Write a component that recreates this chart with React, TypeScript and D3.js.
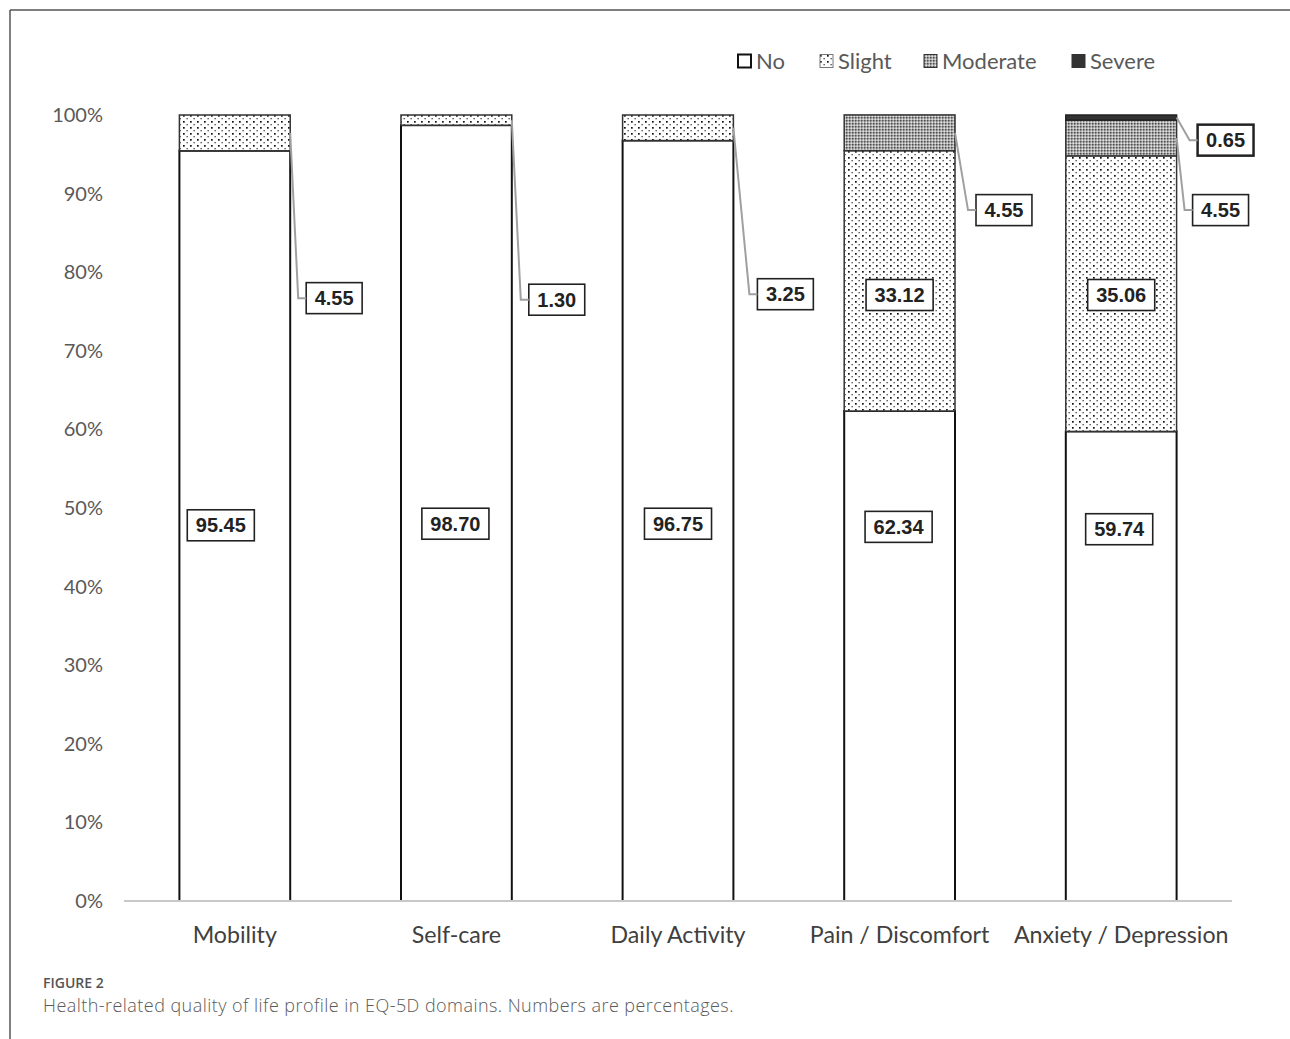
import React, { useEffect, useRef } from "react";
import * as d3 from "d3";

// EQ-5D domains and the share of each answer level (percent)
const categories = ["Mobility", "Self-care", "Daily Activity", "Pain / Discomfort", "Anxiety / Depression"];
const levels = ["No", "Slight", "Moderate", "Severe"];
const noVals = [95.45, 98.7, 96.75, 62.34, 59.74];
const slightVals = [4.55, 1.3, 3.25, 33.12, 35.06];
const moderateVals = [0, 0, 0, 4.55, 4.55];
const severeVals = [0, 0, 0, 0, 0.65];
const yTicks = [0, 10, 20, 30, 40, 50, 60, 70, 80, 90, 100];

// where the value boxes sit (percent height / pixel offset)
const noLabelAt = [47.8, 48, 48, 47.6, 47.3];
const noLabelDx = [-14, -1, 0, -1, -2];
const slightInsideAt = 77.1;
// callouts for thin segments: [category index, level index, dx, box y in percent]
const callouts: [number, number, number, number][] = [
    [0, 1, 46, 76.7],
    [1, 1, 47, 76.5],
    [2, 1, 54, 77.2],
    [3, 2, 51, 87.9],
    [4, 3, 51, 96.8],
    [4, 2, 46, 87.9],
];

const W = 1290;
const H = 1039;

const App = () => {
    const ref = useRef<SVGSVGElement>(null);

    useEffect(() => {
        const svg = d3.select(ref.current);
        svg.selectAll("*").remove();

        const x = d3
            .scaleBand()
            .domain(categories)
            .range([124, 1232])
            .paddingInner(0.5)
            .paddingOuter(0.25);
        const y = d3.scaleLinear().domain([0, 100]).range([901, 115]);

        // fill patterns
        const defs = svg.append("defs");
        const dots = defs
            .append("pattern")
            .attr("id", "slight")
            .attr("patternUnits", "userSpaceOnUse")
            .attr("width", 7)
            .attr("height", 6);
        dots.append("rect").attr("width", 7).attr("height", 6).attr("fill", "#fff");
        dots.append("rect").attr("x", 1).attr("y", 1).attr("width", 1.7).attr("height", 1.7).attr("fill", "#111");
        dots.append("rect").attr("x", 4.5).attr("y", 4).attr("width", 1.3).attr("height", 1.3).attr("fill", "#444");

        const mod = defs
            .append("pattern")
            .attr("id", "moderate")
            .attr("patternUnits", "userSpaceOnUse")
            .attr("width", 3)
            .attr("height", 3);
        mod.append("rect").attr("width", 3).attr("height", 3).attr("fill", "#ababab");
        mod.append("rect").attr("width", 1.5).attr("height", 1.5).attr("fill", "#505050");
        mod.append("rect").attr("x", 1.5).attr("y", 1.5).attr("width", 1.5).attr("height", 1.5).attr("fill", "#e0e0e0");

        const fills: Record<string, string> = {
            No: "#fff",
            Slight: "url(#slight)",
            Moderate: "url(#moderate)",
            Severe: "#333",
        };
        const strokes: Record<string, string> = {
            No: "#111",
            Slight: "#333",
            Moderate: "#333",
            Severe: "#222",
        };

        // outer frame lines
        svg.append("line").attr("x1", 10).attr("x2", W).attr("y1", 10).attr("y2", 10).attr("stroke", "#555").attr("stroke-width", 1.5);
        svg.append("line").attr("x1", 10).attr("x2", 10).attr("y1", 10).attr("y2", H).attr("stroke", "#555").attr("stroke-width", 1.5);

        // y axis labels
        svg.append("g")
            .selectAll("text")
            .data(yTicks)
            .join("text")
            .attr("x", 103)
            .attr("y", (d) => y(d))
            .attr("dy", "0.35em")
            .attr("text-anchor", "end")
            .attr("font-family", "Lato, sans-serif")
            .attr("font-size", 20)
            .attr("fill", "#595959")
            .text((d) => d + "%");

        // stacked bars
        const series = [noVals, slightVals, moderateVals, severeVals];
        const table = categories.map((c, i) => {
            const row: any = { cat: c };
            levels.forEach((l, j) => (row[l] = series[j][i]));
            return row;
        });
        const stack = d3.stack().keys(levels)(table);

        const gBars = svg.append("g");
        stack.forEach((layer) => {
            gBars
                .append("g")
                .selectAll("rect")
                .data(layer.filter((d) => d[1] - d[0] > 0))
                .join("rect")
                .attr("x", (d: any) => x(d.data.cat)!)
                .attr("width", x.bandwidth())
                .attr("y", (d) => y(d[1]))
                .attr("height", (d) => y(d[0]) - y(d[1]))
                .attr("fill", fills[layer.key])
                .attr("stroke", strokes[layer.key])
                .attr("stroke-width", layer.key === "No" ? 2 : 1.5);
        });

        // baseline
        svg.append("line")
            .attr("x1", 124)
            .attr("x2", 1232)
            .attr("y1", y(0))
            .attr("y2", y(0))
            .attr("stroke", "#c8c8c8")
            .attr("stroke-width", 2);

        // category labels
        svg.append("g")
            .selectAll("text")
            .data(categories)
            .join("text")
            .attr("x", (d) => x(d)! + x.bandwidth() / 2)
            .attr("y", 935)
            .attr("dy", "0.35em")
            .attr("text-anchor", "middle")
            .attr("font-family", "Lato, sans-serif")
            .attr("font-size", 23.2)
            .attr("fill", "#404040")
            .text((d) => d);

        // value box helper
        const gLab = svg.append("g");
        const box = (cx: number, cy: number, txt: string, thick = false, anchorLeft = false) => {
            const t = gLab
                .append("text")
                .attr("y", cy)
                .attr("dy", "0.36em")
                .attr("font-family", "'Liberation Sans', Arial, sans-serif")
                .attr("font-weight", "bold")
                .attr("font-size", 20)
                .attr("fill", "#222")
                .text(txt);
            const w = (t.node() as SVGTextElement).getComputedTextLength() + 17;
            const left = anchorLeft ? cx : cx - w / 2;
            t.attr("x", left + w / 2).attr("text-anchor", "middle");
            gLab.insert("rect", "text")
                .attr("x", left)
                .attr("y", cy - 15.5)
                .attr("width", w)
                .attr("height", 31)
                .attr("fill", "#fff")
                .attr("stroke", "#222")
                .attr("stroke-width", thick ? 2.5 : 1.6);
        };

        categories.forEach((c, i) => {
            const cx = x(c)! + x.bandwidth() / 2;
            box(cx + noLabelDx[i], y(noLabelAt[i]), noVals[i].toFixed(2));
            if (slightVals[i] > 10) box(cx, y(slightInsideAt), slightVals[i].toFixed(2));
        });

        callouts.forEach(([ci, li, dx, at]) => {
            const layer = stack[li];
            const seg = layer[ci];
            const mid = (seg[0] + seg[1]) / 2;
            const x0 = x(categories[ci])! + x.bandwidth();
            const bx = x0 + dx - 30;
            const by = y(at);
            gLab.append("polyline")
                .attr("points", `${x0},${y(mid)} ${bx - 8},${by} ${bx},${by}`)
                .attr("fill", "none")
                .attr("stroke", "#a0a0a0")
                .attr("stroke-width", 2);
            box(bx, by, series[li][ci].toFixed(2), li === 3, true);
        });

        // legend
        const legX = [738, 820, 924, 1072];
        const gLeg = svg.append("g");
        levels.forEach((l, i) => {
            gLeg.append("rect")
                .attr("x", legX[i])
                .attr("y", 54.5)
                .attr("width", 13)
                .attr("height", 13)
                .attr("fill", fills[l])
                .attr("stroke", l === "No" ? "#111" : l === "Slight" ? "#777" : "#333")
                .attr("stroke-width", l === "No" ? 2 : 1);
            gLeg.append("text")
                .attr("x", legX[i] + 18)
                .attr("y", 61)
                .attr("dy", "0.35em")
                .attr("font-family", "Lato, sans-serif")
                .attr("font-size", 22)
                .attr("fill", "#595959")
                .text(l);
        });

        // caption
        svg.append("text")
            .attr("x", 43)
            .attr("y", 988)
            .attr("font-family", "'Open Sans', sans-serif")
            .attr("font-size", 14)
            .attr("font-weight", 600)
            .attr("fill", "#555")
            .text("FIGURE 2");
        svg.append("text")
            .attr("x", 43)
            .attr("y", 1012)
            .attr("font-family", "'Open Sans', sans-serif")
            .attr("font-size", 18)
            .attr("font-weight", 300)
            .attr("letter-spacing", 0.45)
            .attr("fill", "#5a5a5a")
            .text("Health-related quality of life profile in EQ-5D domains. Numbers are percentages.");
    }, []);

    return (
        <svg
            ref={ref}
            width={W}
            height={H}
            style={{ position: "absolute", left: 0, top: 0, background: "#fff" }}
        />
    );
};

export default App;
